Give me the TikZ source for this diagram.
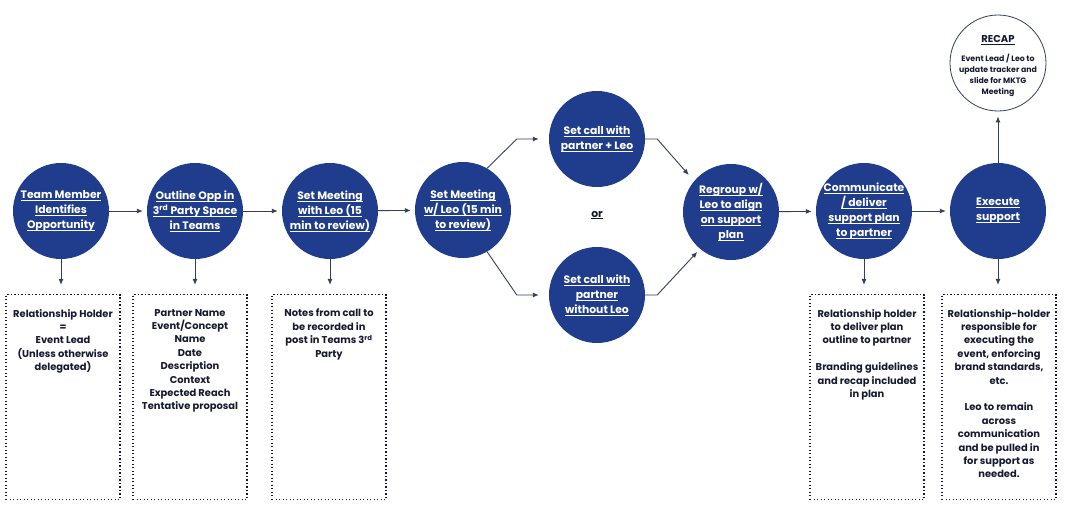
\documentclass[tikz,border=0pt]{standalone}
\usepackage{fontspec}
\setmainfont{Poppins}
\usetikzlibrary{arrows.meta, positioning}

\definecolor{navy}{RGB}{31,61,140}
\definecolor{ink}{RGB}{22,26,48}
\definecolor{wire}{RGB}{52,62,92}

\newlength{\lnkw}
\newcommand{\lnk}[1]{\settowidth{\lnkw}{#1}\rlap{\rule[-2pt]{\lnkw}{0.6pt}}#1}

\tikzset{
  stage/.style={circle, fill=navy, minimum size=96pt, inner sep=0pt},
  stagetxt/.style={text=white, font=\bfseries\fontsize{10.8}{15}\selectfont, align=center, inner sep=0pt},
  notebox/.style={draw=ink, line width=1.2pt, dash pattern=on 1.2pt off 2.3pt, minimum width=114pt, minimum height=205pt, inner sep=0pt},
  notetxt/.style={text=ink, font=\bfseries\fontsize{9.9}{13.4}\selectfont, align=center, inner sep=0pt},
  arr/.style={wire, line width=0.9pt, -{Latex[length=6pt,width=5pt]}},
}

\begin{document}
\begin{tikzpicture}[x=1pt, y=-1pt]
  \useasboundingbox (0,0) rectangle (1066,509);
  % Main stages
  \node[stage] (s1) at (61,211) {};
  \node[stagetxt] (t1) at (s1) {\lnk{Team Member}\\\lnk{Identifies}\\\lnk{Opportunity}};
  \node[stage] (s2) at (195,211) {};
  \node[stagetxt] (t2) at (s2) {\lnk{Outline Opp in}\\\lnk{3\textsuperscript{rd} Party Space}\\\lnk{in Teams}};
  \node[stage] (s3) at (330,211) {};
  \node[stagetxt] (t3) at (s3) {\lnk{Set Meeting}\\\lnk{with Leo (15}\\\lnk{min to review)}};
  \node[stage] (s4) at (463,210) {};
  \node[stagetxt] (t4) at (s4) {\lnk{Set Meeting}\\\lnk{w/ Leo (15 min}\\\lnk{to review)}};
  \node[stage] (s5) at (597,139) {};
  \node[stagetxt] (t5) at (s5) {\lnk{Set call with}\\\lnk{partner + Leo}};
  \node[stage] (s6) at (597,295) {};
  \node[stagetxt] (t6) at (s6) {\lnk{Set call with}\\\lnk{partner}\\\lnk{without Leo}};
  \node[text=ink, font=\bfseries\fontsize{10.8}{15}\selectfont] (or) at (597,215) {\lnk{or}};
  \node[stage] (s7) at (731,212) {};
  \node[stagetxt] (t7) at (s7) {\lnk{Regroup w/}\\\lnk{Leo to align}\\\lnk{on support}\\\lnk{plan}};
  \node[stage] (s8) at (864,211) {};
  \node[stagetxt] (t8) at (s8) {\lnk{Communicate}\\\lnk{/ deliver}\\\lnk{support plan}\\\lnk{to partner}};
  \node[stage] (s9) at (998,211) {};
  \node[stagetxt] (t9) at (s9) {\lnk{Execute}\\\lnk{support}};
  % Recap
  \node[circle, draw=wire, line width=0.8pt, fill=white, minimum size=96pt, inner sep=0pt] (recap) at (998,63) {};
  \node[text=ink, font=\bfseries\fontsize{10}{11}\selectfont] (rtitle) at (998,40) {\lnk{RECAP}};
  \node[text=ink, font=\bfseries\fontsize{7.8}{11}\selectfont, align=center, inner sep=0pt, below=6pt of rtitle] (rtxt) {Event Lead / Leo to\\update tracker and\\slide for MKTG\\Meeting};
  % Notes
  \node[notebox] (b1) at (63,397) {};
  \node[notetxt, below=15pt of b1.north] (n1) {Relationship Holder\\=\\Event Lead\\(Unless otherwise\\delegated)};
  \node[notebox] (b2) at (190,397) {};
  \node[notetxt, below=15pt of b2.north] (n2) {Partner Name\\Event/Concept\\Name\\Date\\Description\\Context\\Expected Reach\\Tentative proposal};
  \node[notebox] (b3) at (329,397) {};
  \node[notetxt, below=15pt of b3.north] (n3) {Notes from call to\\be recorded in\\post in Teams 3\textsuperscript{rd}\\Party};
  \node[notebox] (b4) at (867,397) {};
  \node[notetxt, below=15pt of b4.north] (n4) {Relationship holder\\to deliver plan\\outline to partner\\[13.4pt]Branding guidelines\\and recap included\\in plan};
  \node[notebox] (b5) at (999,397) {};
  \node[notetxt, below=15pt of b5.north] (n5) {Relationship-holder\\responsible for\\executing the\\event, enforcing\\brand standards,\\etc.\\[13.4pt]Leo to remain\\across\\communication\\and be pulled in\\for support as\\needed.};
  % Flow
  \draw[arr, shorten >=4pt] (s1) -- (s2);
  \draw[arr, shorten >=4pt] (s2) -- (s3);
  \draw[arr, shorten >=4pt] (s3) -- (s4);
  \draw[arr, shorten >=10pt] (s4.60) -- ([xshift=-32pt]s5.west) -- (s5.west);
  \draw[arr, shorten >=10pt] (s4.-60) -- ([xshift=-32pt]s6.west) -- (s6.west);
  \draw[arr, shorten >=8pt] (s5.east) -- ([xshift=12pt]s5.east) -- (s7.140);
  \draw[arr, shorten >=4pt] (s6.east) -- ([xshift=12pt]s6.east) -- (s7.-130);
  \draw[arr, shorten >=4pt] (s7) -- (s8);
  \draw[arr, shorten >=4pt] (s8) -- (s9);
  \draw[arr, shorten >=5pt] (s9) -- (recap);
  % Down to notes
  \foreach \s/\b in {s1/b1, s2/b2, s3/b3, s8/b4, s9/b5}
    \draw[arr, shorten >=9pt] (\s) -- (\s |- \b.north);
\end{tikzpicture}
\end{document}
